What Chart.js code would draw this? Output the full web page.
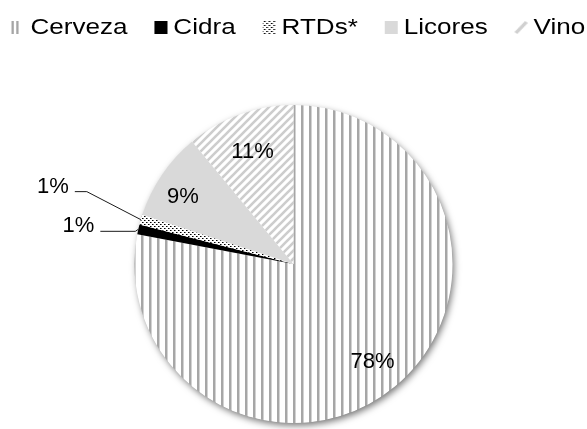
<!DOCTYPE html>
<html lang="es">
<head>
<meta charset="utf-8">
<title>Consumo de bebidas alcohólicas</title>
<script src="https://cdn.jsdelivr.net/npm/chart.js@4.4.1/dist/chart.umd.min.js"></script>
<style>
  html, body { margin: 0; padding: 0; background: #fff; }
</style>
</head>
<body>
<canvas id="chart" width="587" height="429"></canvas>
<script>
// ===== datos =====
const categories = ['Cerveza', 'Cidra', 'RTDs*', 'Licores', 'Vino'];
const shares     = [78, 1, 1, 9, 11];   // % del total

// ===== tramas =====
const canvas = document.getElementById('chart');
const ctx    = canvas.getContext('2d');

function tile(w, h, draw) {
  const c = document.createElement('canvas');
  c.width = w; c.height = h;
  draw(c.getContext('2d'), w, h);
  return c;
}

// rayas verticales grises
const stripeTile = tile(8, 8, g => {
  g.fillStyle = '#fff'; g.fillRect(0, 0, 8, 8);
  g.fillStyle = '#a6a6a6'; g.fillRect(5, 0, 2, 8);
  g.fillStyle = '#d2d2d2'; g.fillRect(7, 0, 1, 8);
});
// diagonales claras
const diagTile = tile(8, 8, g => {
  g.fillStyle = '#fff'; g.fillRect(0, 0, 8, 8);
  g.strokeStyle = '#cdcdcd'; g.lineWidth = 2.6;
  [[0, 8, 8, 0], [-4, 4, 4, -4], [4, 12, 12, 4]].forEach(([a, b, c, d]) => {
    g.beginPath(); g.moveTo(a, b); g.lineTo(c, d); g.stroke();
  });
});
// puntos negros
const dotTile = tile(4, 4, g => {
  g.fillStyle = '#fff'; g.fillRect(0, 0, 4, 4);
  g.fillStyle = '#000'; g.fillRect(0, 0, 1, 1); g.fillRect(2, 2, 1, 1);
  g.fillStyle = '#777'; g.fillRect(1, 0, 1, 1); g.fillRect(3, 2, 1, 1);
});

const fills = [
  ctx.createPattern(stripeTile, 'repeat'),
  '#000000',
  ctx.createPattern(dotTile, 'repeat'),
  '#d9d9d9',
  ctx.createPattern(diagTile, 'repeat'),
];

// cuadritos de la leyenda: 16x13 con el cuadro en x 3..14
// (la imagen se centra en el punto del item; se ensancha al dibujar)
const BOX_X = 3, BOX_W = 11, BOX_H = 13, BOX_IMG_W = 16;
const legendBoxes = [
  g => { g.fillStyle = '#a6a6a6'; g.fillRect(BOX_X, 0, 2, BOX_H); g.fillRect(BOX_X + 4, 0, 2, BOX_H); },
  g => { g.fillStyle = '#000'; g.fillRect(BOX_X, 0, BOX_W, BOX_H); },
  g => {
    g.fillStyle = '#fff'; g.fillRect(BOX_X, 0, BOX_W, BOX_H);
    g.fillStyle = g.createPattern(dotTile, 'repeat'); g.fillRect(BOX_X, 0, BOX_W, BOX_H);
  },
  g => { g.fillStyle = '#d9d9d9'; g.fillRect(BOX_X, 0, BOX_W, BOX_H); },
  g => {
    g.strokeStyle = '#d0d0d0'; g.lineWidth = 3;
    g.beginPath(); g.moveTo(BOX_X + 1, BOX_H - 1); g.lineTo(BOX_X + BOX_W - 1, 1); g.stroke();
  },
].map(draw => tile(BOX_IMG_W, BOX_H, draw));

// ===== plugins =====

// leyenda ensanchada en horizontal
const legendLook = {
  id: 'legendLook',
  afterLayout(chart, args, opts) {
    chart.legend.left  += opts.shift;
    chart.legend.right += opts.shift;
  },
  beforeDraw(chart, args, opts) {
    chart.ctx.save();
    chart.ctx.scale(opts.stretch, 1);
  },
  beforeDatasetsDraw(chart) { chart.ctx.restore(); },
};

// sombra suave bajo el círculo
const pieShadow = {
  id: 'pieShadow',
  beforeDatasetsDraw(chart) {
    const arc = chart.getDatasetMeta(0).data[0];
    if (!arc) return;
    const { x, y, outerRadius } = arc.getProps(['x', 'y', 'outerRadius'], true);
    const c = chart.ctx;
    c.save();
    c.shadowColor   = 'rgba(0,0,0,0.55)';
    c.shadowBlur    = 7;
    c.shadowOffsetX = 2;
    c.shadowOffsetY = 3;
    c.fillStyle = '#fff';
    c.beginPath();
    c.arc(x, y, outerRadius - 0.5, 0, Math.PI * 2);
    c.fill();
    c.restore();
  },
};

// etiquetas de porcentaje (dentro, o fuera con línea guía)
const sliceLabels = {
  id: 'sliceLabels',
  afterDatasetsDraw(chart, args, opts) {
    const c = chart.ctx;
    const meta = chart.getDatasetMeta(0);
    c.save();
    c.font = opts.font;
    c.fillStyle = opts.color;
    meta.data.forEach((arc, i) => {
      const { x, y, startAngle, endAngle, outerRadius } =
        arc.getProps(['x', 'y', 'startAngle', 'endAngle', 'outerRadius'], true);
      const mid  = (startAngle + endAngle) / 2 + (opts.turns[i] || 0);
      const text = shares[i] + '%';
      const guide = opts.guides[i];
      if (guide) {
        const px = x + Math.cos(mid) * outerRadius;
        const py = y + Math.sin(mid) * outerRadius;
        const ex = px + guide.dx, ey = py + guide.dy;
        const lx = ex - guide.len;
        c.strokeStyle = '#1a1a1a';
        c.lineWidth = 1;
        c.beginPath();
        c.moveTo(px, py); c.lineTo(ex, ey); c.lineTo(lx, ey);
        c.stroke();
        c.textAlign = 'right';
        c.textBaseline = 'alphabetic';
        c.fillText(text, lx - 6, ey + 1);
      } else {
        const r = outerRadius * (opts.insets[i] || 0.78);
        c.textAlign = 'center';
        c.textBaseline = 'middle';
        c.fillText(text, x + Math.cos(mid) * r, y + Math.sin(mid) * r + 2);
      }
    });
    c.restore();
  },
};

// ===== gráfico =====
new Chart(ctx, {
  type: 'pie',
  data: {
    labels: categories,
    datasets: [{
      data: shares,
      backgroundColor: fills,
      borderWidth: 0,
      radius: 159,
    }],
  },
  options: {
    responsive: false,
    animation: false,
    events: [],
    layout: { padding: { top: -11.2, bottom: 0, left: 0, right: 0 } },
    plugins: {
      legend: {
        position: 'top',
        labels: {
          usePointStyle: true,
          boxWidth: 0.01,
          padding: 27.7,
          color: '#000',
          font: { family: '"Liberation Sans", Arial, sans-serif', size: 22 },
          generateLabels: chart => categories.map((label, i) => ({
            text: label,
            pointStyle: legendBoxes[i],
            fillStyle: 'transparent',
            strokeStyle: 'transparent',
            lineWidth: 0,
            fontColor: '#000',
            hidden: false,
            index: i,
          })),
        },
      },
      // hueco entre la leyenda y el círculo
      subtitle: {
        display: true,
        text: '',
        position: 'top',
        weight: 500,
        font: { size: 10, lineHeight: 1 },
        padding: { top: 0, bottom: 40.5 },
      },
      tooltip: { enabled: false },
      legendLook: { stretch: 1.185, shift: -39.2 },
      sliceLabels: {
        font: '22px "Liberation Sans", Arial, sans-serif',
        color: '#000',
        insets: { 0: 0.78, 3: 0.82, 4: 0.76 },
        turns: { 3: -0.04 },
        guides: {
          1: { dx: -3,  dy: 2,   len: 35 },
          2: { dx: -54, dy: -28, len: 12 },
        },
      },
    },
  },
  plugins: [legendLook, pieShadow, sliceLabels],
});
</script>
</body>
</html>
